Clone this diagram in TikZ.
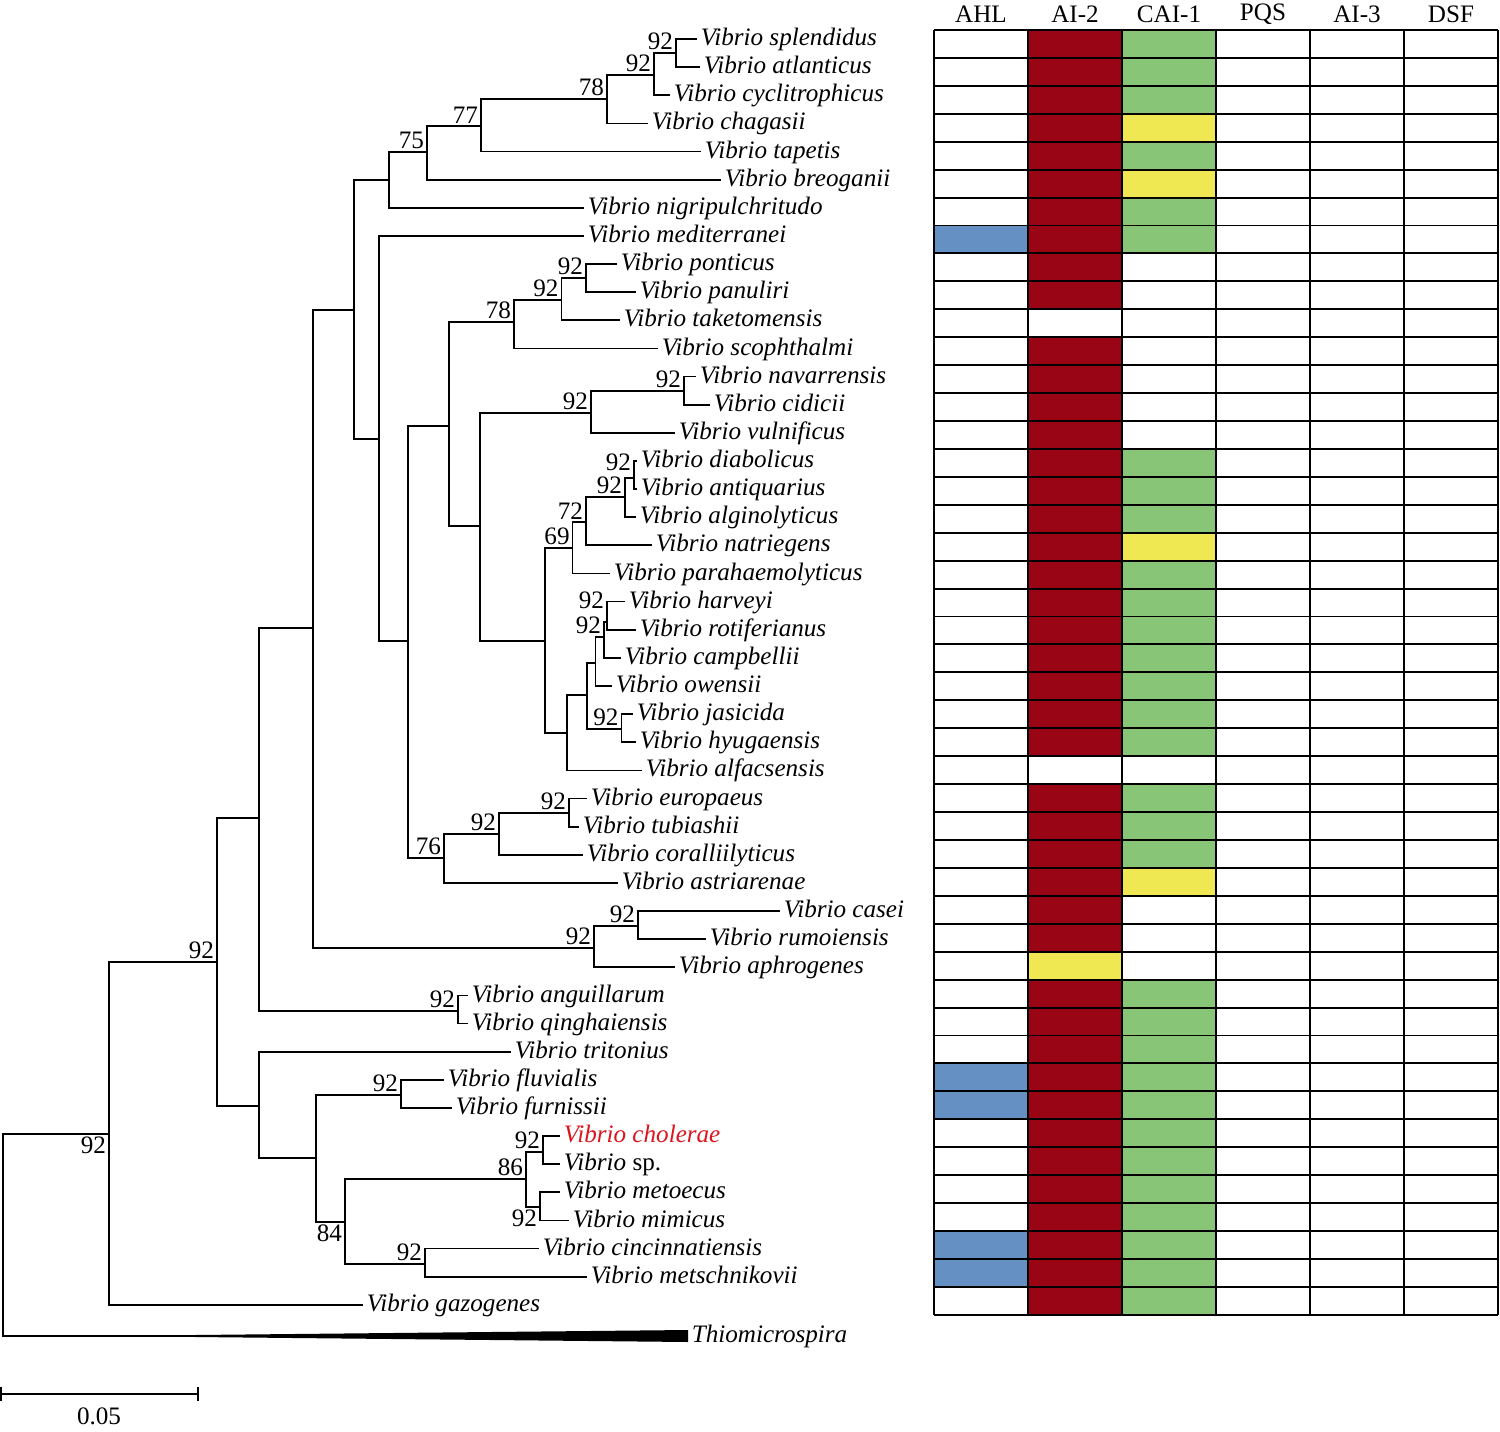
\documentclass[tikz,border=0pt]{standalone}
\usepackage{fontspec}
\setmainfont{Liberation Serif}
\definecolor{aired}{HTML}{990514}
\definecolor{aigreen}{HTML}{88C576}
\definecolor{aiyellow}{HTML}{EFE853}
\definecolor{ahlblue}{HTML}{6490C4}
\definecolor{chred}{HTML}{DC141E}

\begin{document}
\begin{tikzpicture}[x=0.02cm,y=-0.02cm,
  br/.style={line width=1pt},
  leaf/.style={anchor=west,inner sep=2pt,text height=0.75em,text depth=0pt,
    font=\fontsize{14.3}{16}\selectfont\itshape},
  bs/.style={anchor=south east,inner sep=1.5pt,font=\fontsize{14.3}{16}\selectfont},
  bsb/.style={anchor=north east,inner sep=1.5pt,font=\fontsize{14.3}{16}\selectfont},
  hd/.style={font=\fontsize{14.3}{16}\selectfont},
  grid/.style={line width=1.1pt}]

\useasboundingbox (0,0) rectangle (1500,1432);

% leaves
\foreach \i/\x/\n in {1/697/splendidus,2/700/atlanticus,3/670/cyclitrophicus,
  4/648/chagasii,5/701/tapetis,6/721/breoganii,7/584/nigripulchritudo,
  8/584/mediterranei,9/617/ponticus,10/636/panuliri,11/620/taketomensis,
  12/658/scophthalmi,13/696/navarrensis,14/710/cidicii,15/675/vulnificus,
  16/637/diabolicus,17/637/antiquarius,18/636/alginolyticus,19/652/natriegens,
  20/610/parahaemolyticus,21/625/harveyi,22/636/rotiferianus,23/621/campbellii,
  24/612/owensii,25/633/jasicida,26/636/hyugaensis,27/642/alfacsensis,
  28/587/europaeus,29/579/tubiashii,30/583/coralliilyticus,31/618/astriarenae,
  32/780/casei,33/706/rumoiensis,34/675/aphrogenes,35/468/anguillarum,
  36/468/qinghaiensis,37/511/tritonius,38/444/fluvialis,39/452/furnissii,
  41/560/\upshape sp.,42/560/metoecus,43/569/mimicus,44/539/cincinnatiensis,
  45/587/metschnikovii,46/363/gazogenes}
  \node[leaf] (L\i) at (\x,{39+28.13*(\i-1)}) {Vibrio \n};
\node[leaf,text=chred] (L40) at (560,{39+28.13*39}) {Vibrio cholerae};

% inner nodes
\coordinate (r) at (3,1235);
\coordinate (thio) at (195,1336);
\coordinate (n108) at (109,1134);
\coordinate (n217) at (217,962);
\coordinate (n259a) at (259,818);
\coordinate (n259b) at (259,1106);
\coordinate (nAng) at (458,1011);
\coordinate (n313) at (313,628);
\coordinate (nCas) at (594,948);
\coordinate (nCas2) at (638,926);
\coordinate (nG) at (354,310);
\coordinate (nF) at (389,180);
\coordinate (nE) at (427,152);
\coordinate (nD) at (481,126);
\coordinate (nC) at (607,99);
\coordinate (nB) at (654,75);
\coordinate (nA) at (676,53);
\coordinate (nH) at (379,439);
\coordinate (n408) at (408,641);
\coordinate (n449) at (449,426);
\coordinate (n78b) at (514,322);
\coordinate (n92c) at (561.5,300);
\coordinate (n92d) at (586,278);
\coordinate (n480) at (480,526);
\coordinate (nNav) at (591,413);
\coordinate (nNav2) at (684,391);
\coordinate (nBig) at (545,641);
\coordinate (n69) at (572.6,548);
\coordinate (n72) at (586,522);
\coordinate (n92e) at (625,497);
\coordinate (n92f) at (634,478);
\coordinate (nHar) at (567,733);
\coordinate (nHar2) at (587,695);
\coordinate (nOw) at (595.5,663);
\coordinate (nCam) at (604,637);
\coordinate (nHarv) at (607,622);
\coordinate (nJas) at (621.5,729);
\coordinate (n76) at (444,858);
\coordinate (n92g) at (499,834);
\coordinate (n92h) at (569,813);
\coordinate (nFur) at (316,1158);
\coordinate (nFlu) at (401,1095);
\coordinate (n84) at (345,1222);
\coordinate (n86) at (526,1179);
\coordinate (nCho) at (543,1152);
\coordinate (nMet) at (540,1207);
\coordinate (nCin) at (425,1264);

% branches
\foreach \p/\c in {r/n108,r/thio,n108/n217,n108/L46.west,n217/n259a,n217/n259b,
  n259a/n313,n259a/nAng,nAng/L35.west,nAng/L36.west,n313/nG,n313/nCas,
  nCas/nCas2,nCas/L34.west,nCas2/L32.west,nCas2/L33.west,nG/nF,nG/nH,
  nF/nE,nF/L7.west,nE/nD,nE/L6.west,nD/nC,nD/L5.west,nC/nB,nC/L4.west,
  nB/nA,nB/L3.west,nA/L1.west,nA/L2.west,nH/L8.west,nH/n408,
  n408/n449,n408/n76,n449/n78b,n449/n480,n78b/n92c,n78b/L12.west,
  n92c/n92d,n92c/L11.west,n92d/L9.west,n92d/L10.west,n480/nNav,n480/nBig,
  nNav/nNav2,nNav/L15.west,nNav2/L13.west,nNav2/L14.west,nBig/n69,nBig/nHar,
  n69/n72,n69/L20.west,n72/n92e,n72/L19.west,n92e/n92f,n92e/L18.west,
  n92f/L16.west,n92f/L17.west,nHar/nHar2,nHar/L27.west,nHar2/nOw,nHar2/nJas,
  nOw/nCam,nOw/L24.west,nCam/nHarv,nCam/L23.west,nHarv/L21.west,nHarv/L22.west,
  nJas/L25.west,nJas/L26.west,n76/n92g,n76/L31.west,n92g/n92h,n92g/L30.west,
  n92h/L28.west,n92h/L29.west,n259b/L37.west,n259b/nFur,nFur/nFlu,nFur/n84,
  nFlu/L38.west,nFlu/L39.west,n84/n86,n84/nCin,n86/nCho,n86/nMet,
  nCho/L40.west,nCho/L41.west,nMet/L42.west,nMet/L43.west,
  nCin/L44.west,nCin/L45.west}
  \draw[br] (\p) |- (\c);

% collapsed outgroup
\coordinate (thioend) at (688,1336);
\draw[br] (thio) -- (thioend);
\fill (195,1335) -- (thioend |- 0,1330) -- (thioend |- 0,1342) -- (195,1337) -- cycle;
\node[leaf] (T) at (thioend) {Thiomicrospira};

% bootstrap values
\foreach \n/\v in {nA/92,nB/92,nC/78,nD/77,nE/75,n92d/92,n92c/92,n78b/78,
  nNav/92,nNav2/92,n92e/92,n72/72,n69/69,nCam/92,nJas/92,
  n92h/92,n92g/92,n76/76,nCas2/92,nCas/92,nAng/92,n217/92,nFlu/92,
  nCho/92,n86/86,nCin/92}
  \node[bs] (b\n) at (\n) {\v};
\node[bs,yshift=6pt] (bnHarv) at (nHarv) {92};
\node[bs,yshift=2.5pt] (bn92f) at (n92f) {92};
\foreach \n/\v in {n108/92,nMet/92,n84/84}
  \node[bsb] (b\n) at (\n) {\v};

% scale bar
\coordinate (s0) at (1,1394);
\coordinate (s1) at (198,1394);
\draw[br] (s0) -- (s1);
\draw[br] (s0) ++(0,-7) -- ++(0,14);
\draw[br] (s1) ++(0,-7) -- ++(0,14);
\node[hd] (sc) at (99,1416) {0.05};

% signal table
\foreach \i in {1,...,46}
  \fill[aired] (1028,{30+27.93*(\i-1)}) rectangle +(94,27.93);
\foreach \i in {11,27}
  \fill[white] (1028,{30+27.93*(\i-1)}) rectangle +(94,27.93);
\fill[aiyellow] (1028,{30+27.93*33}) rectangle +(94,27.93);
\foreach \i in {1,...,8,16,17,...,30,35,36,...,46}
  \fill[aigreen] (1122,{30+27.93*(\i-1)}) rectangle +(94,27.93);
\foreach \i in {4,6,19,27,31}
  \fill[aiyellow] (1122,{30+27.93*(\i-1)}) rectangle +(94,27.93);
\fill[white] (1122,{30+27.93*26}) rectangle +(94,27.93);
\foreach \i in {8,38,39,44,45}
  \fill[ahlblue] (934,{30+27.93*(\i-1)}) rectangle +(94,27.93);

\foreach \i in {0,...,46}
  \draw[grid] (934,{30+27.93*\i}) -- (1498,{30+27.93*\i});
\foreach \x in {934,1028,...,1498}
  \draw[grid] (\x,30) -- (\x,{30+27.93*46});

\foreach \t [count=\k] in {AHL,AI-2,CAI-1,PQS,AI-3,DSF}
  \node[hd] (h\k) at ({934+94*\k-47},14) {\t};

\end{tikzpicture}
\end{document}
